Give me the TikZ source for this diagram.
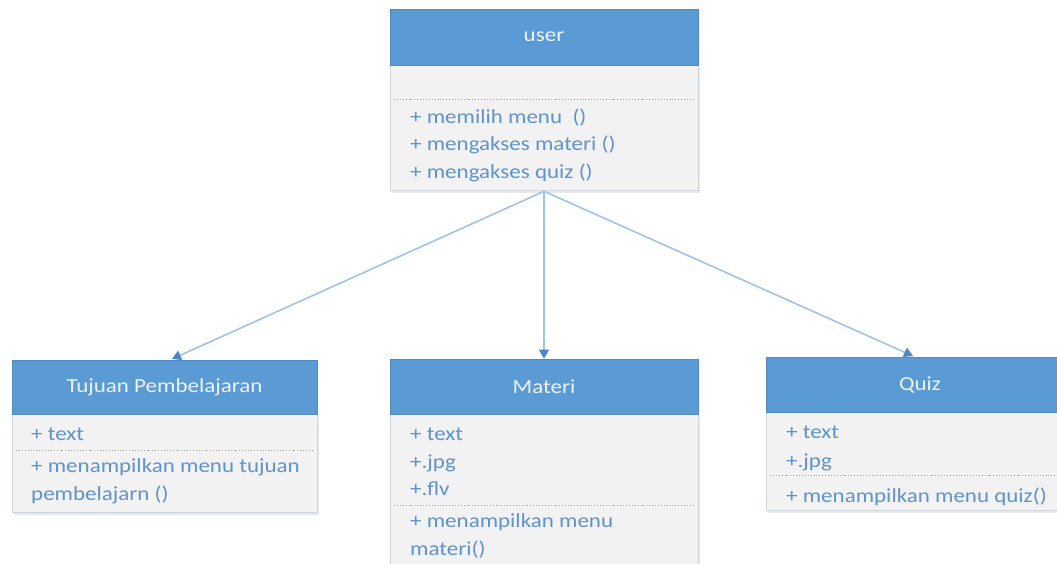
\documentclass[tikz,border=0pt]{standalone}
\usepackage{fontspec}
\setmainfont{Carlito}[FakeStretch=1.15]
\usetikzlibrary{positioning,arrows.meta,shadows,backgrounds}

\definecolor{biruKepala}{HTML}{5B9BD5}
\definecolor{biruTeks}{HTML}{5F93CC}
\definecolor{abuBadan}{HTML}{F2F2F2}
\definecolor{garisBadan}{HTML}{CFD6DE}
\definecolor{biruPanah}{HTML}{9DC3E6}
\definecolor{ujungPanah}{HTML}{4F86C6}

\tikzset{
  kepala/.style={rectangle, fill=biruKepala, draw=biruKepala!90!black, line width=0.6pt,
    text=white!88!biruKepala, font=\fontsize{20}{23}\selectfont, inner sep=0pt},
  badan/.style={rectangle, fill=abuBadan, draw=garisBadan, line width=1pt, anchor=north,
    inner sep=0pt, drop shadow={shadow xshift=1.5pt, shadow yshift=-2pt, opacity=0.18}},
  isi/.style={anchor=base west, text=biruTeks, font=\fontsize{20}{23}\selectfont, inner sep=0pt},
  pemisah/.style={draw=gray!75, dotted, line width=0.9pt},
  panah/.style={draw=biruPanah, line width=1.6pt,
    -{Triangle[width=10pt,length=9pt,color=ujungPanah]}},
}

\begin{document}
\begin{tikzpicture}[x=1pt,y=-1pt]
	\useasboundingbox (0,0) rectangle (1057,563);

	% kelas user
	\node[kepala, minimum width=308pt, minimum height=56pt] (user) at (544,37) {user};
	\begin{scope}[on background layer]
		\node[badan, minimum width=308pt, minimum height=125pt] (userBadan) at (user.south) {};
	\end{scope}
	\draw[pemisah] (394,99) -- (694,99);
	\node[isi] (u1) at (410,123) {+ memilih menu\ \ ()};
	\node[isi] (u2) at (410,150) {+ mengakses materi ()};
	\node[isi] (u3) at (410,178) {+ mengakses quiz ()};

	% kelas Tujuan Pembelajaran
	\node[kepala, minimum width=305pt, minimum height=54pt] (tujuan) at (164.5,387) {Tujuan Pembelajaran};
	\begin{scope}[on background layer]
		\node[badan, minimum width=305pt, minimum height=98pt] (tujuanBadan) at (tujuan.south) {};
	\end{scope}
	\draw[pemisah] (16,450) -- (313,450);
	\node[isi] (t1) at (31,440) {+ text};
	\node[isi] (t2) at (31,472) {+ menampilkan menu tujuan};
	\node[isi] (t3) at (31,500) {pembelajarn ()};

	% kelas Materi
	\node[kepala, minimum width=308pt, minimum height=55pt] (materi) at (544,386.5) {Materi};
	\begin{scope}[on background layer]
		\node[badan, minimum width=308pt, minimum height=170pt] (materiBadan) at (materi.south) {};
	\end{scope}
	\draw[pemisah] (394,505) -- (694,505);
	\node[isi] (m1) at (410,440) {+ text};
	\node[isi] (m2) at (410,468) {+.jpg};
	\node[isi] (m3) at (410,495) {+.flv};
	\node[isi] (m4) at (410,527) {+ menampilkan menu};
	\node[isi] (m5) at (410,555) {materi()};

	% kelas Quiz
	\node[kepala, minimum width=308pt, minimum height=55pt] (quiz) at (920,384.5) {Quiz};
	\begin{scope}[on background layer]
		\node[badan, minimum width=308pt, minimum height=98pt] (quizBadan) at (quiz.south) {};
	\end{scope}
	\draw[pemisah] (770,475) -- (1070,475);
	\node[isi] (q1) at (786,438) {+ text};
	\node[isi] (q2) at (786,467) {+.jpg};
	\node[isi] (q3) at (786,502) {+ menampilkan menu quiz()};

	% relasi
	\coordinate (keTujuan) at (172,359);
	\coordinate (keQuiz) at (913,356);
	\draw[panah] (userBadan.south) -- (keTujuan);
	\draw[panah] (userBadan.south) -- (materi.north);
	\draw[panah] (userBadan.south) -- (keQuiz);
\end{tikzpicture}
\end{document}
